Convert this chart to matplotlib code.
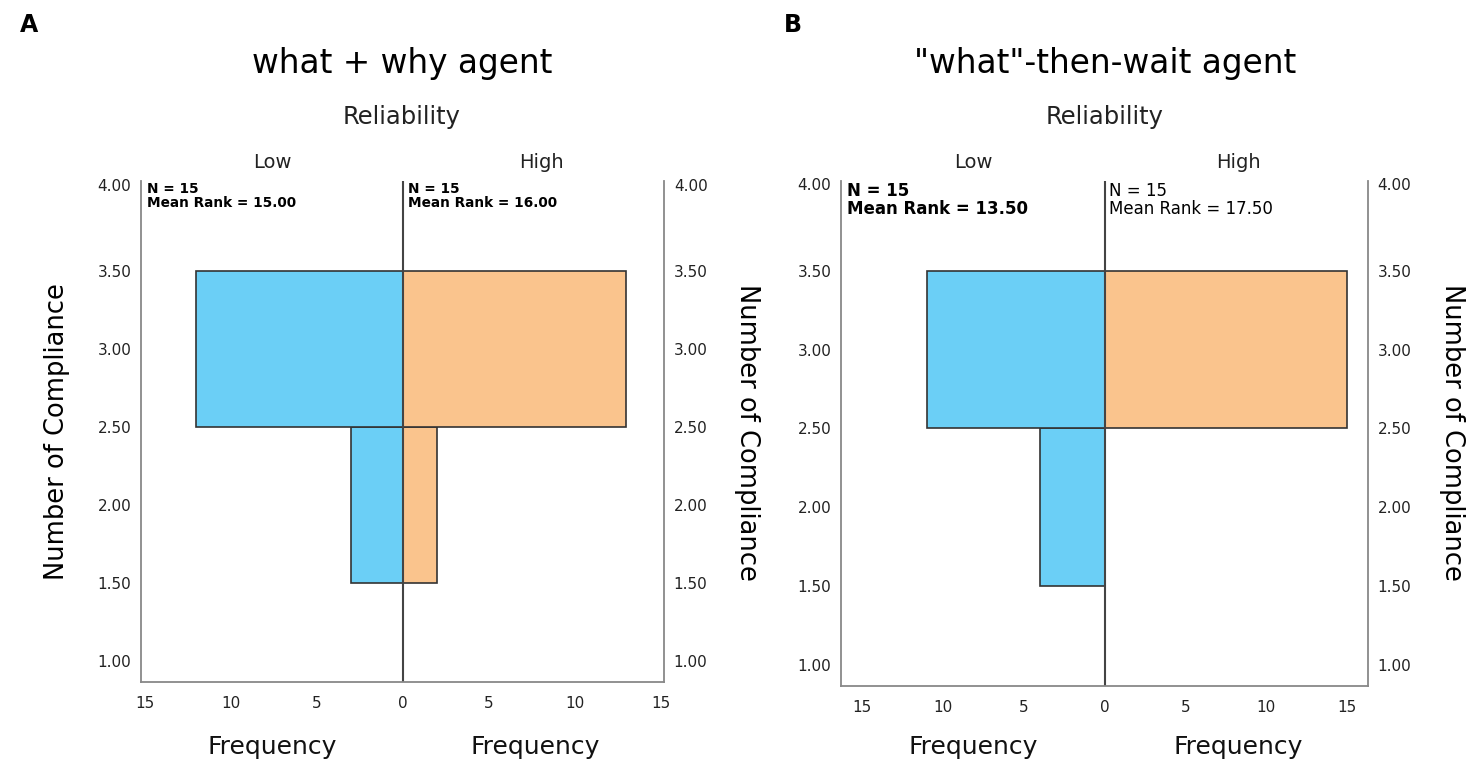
import matplotlib
matplotlib.use("Agg")
import matplotlib.pyplot as plt
from matplotlib.transforms import ScaledTranslation

# compliance bins (bar centres) and frequencies
bins = [2, 3]
a_low = [3, 12]
a_high = [2, 13]
b_low = [4, 11]
b_high = [0, 15]

yticks = [1.0, 1.5, 2.0, 2.5, 3.0, 3.5, 4.0]
xticks = [-15, -10, -5, 0, 5, 10, 15]

a_title = "what + why agent"
b_title = '"what"-then-wait agent'
a_stats = ["N = 15\nMean Rank = 15.00", "N = 15\nMean Rank = 16.00"]
b_stats = ["N = 15\nMean Rank = 13.50", "N = 15\nMean Rank = 17.50"]

blue = "#6BCFF6"
orange = "#FAC48D"

plt.rcParams['font.family'] = ['DejaVu Sans']

fig = plt.figure(figsize=(14.77, 7.76), dpi=100)


def draw_panel(ax, low, high, xlim, ylim):
    ax.barh(bins, [-v for v in low], height=1.0, left=0, color=blue,
            edgecolor="#333333", linewidth=1.2)
    ax.barh(bins, high, height=1.0, left=0, color=orange,
            edgecolor="#333333", linewidth=1.2)
    ax.axvline(0, color="#444444", linewidth=1.5)
    ax.set_xlim(-xlim, xlim)
    ax.set_ylim(*ylim)
    ax.set_yticks(yticks)
    ax.set_yticklabels(["%.2f" % t for t in yticks])
    ax.set_xticks(xticks)
    ax.set_xticklabels([str(abs(t)) for t in xticks])
    ax.tick_params(axis="y", length=0, pad=7, labelsize=11, labelright=True,
                   colors="#222222")
    ax.tick_params(axis="x", length=0, pad=10, labelsize=11, colors="#222222")
    ax.spines["top"].set_visible(False)
    for s in ["left", "right", "bottom"]:
        ax.spines[s].set_color("#888888")
        ax.spines[s].set_linewidth(1.3)
    # SPSS nudges the top label up a bit
    shift = ScaledTranslation(0, 8 / 100, fig.dpi_scale_trans)
    top = ax.yaxis.get_major_ticks()[-1]
    for t in (top.label1, top.label2):
        t.set_transform(t.get_transform() + shift)


# panel A
axA = fig.add_axes([0.0955, 0.1211, 0.3541, 0.6457])
draw_panel(axA, a_low, a_high, 15.2, (0.865, 4.077))
axA.annotate(a_stats[0], xy=(-15.2, 4.077), xytext=(4, -1), textcoords="offset points",
             ha="left", va="top", fontsize=9.8, fontweight="bold", linespacing=1.0)
axA.annotate(a_stats[1], xy=(0, 4.077), xytext=(4, -1), textcoords="offset points",
             ha="left", va="top", fontsize=9.8, fontweight="bold", linespacing=1.0)

# panel B
axB = fig.add_axes([0.5694, 0.116, 0.3568, 0.6508])
draw_panel(axB, b_low, b_high, 16.3, (0.865, 4.071))
axB.annotate(b_stats[0], xy=(-16.3, 4.071), xytext=(4, -1), textcoords="offset points",
             ha="left", va="top", fontsize=12, fontweight="bold", linespacing=1.0)
axB.annotate(b_stats[1], xy=(0, 4.071), xytext=(3, -1), textcoords="offset points",
             ha="left", va="top", fontsize=12, linespacing=1.0)

# headings
fig.text(20 / 1477, 1 - 25 / 776, "A", fontsize=17, fontweight="bold", ha="left", va="center")
fig.text(793 / 1477, 1 - 25 / 776, "B", fontsize=17, fontweight="bold", ha="center", va="center")

for cx, title, lowx, highx, fq1, fq2 in [(402, a_title, 272, 541, 272, 535),
                                          (1105, b_title, 973, 1238, 973, 1238)]:
    fig.text(cx / 1477, 1 - 63 / 776, title, fontsize=23.6, ha="center", va="center")
    fig.text(cx / 1477, 1 - 117 / 776, "Reliability", fontsize=17.5, ha="center", va="center",
             color="#222222")
    fig.text(lowx / 1477, 1 - 162 / 776, "Low", fontsize=14, ha="center", va="center",
             color="#222222")
    fig.text(highx / 1477, 1 - 162 / 776, "High", fontsize=14, ha="center", va="center",
             color="#222222")
    fig.text(fq1 / 1477, 1 - 747 / 776, "Frequency", fontsize=18, ha="center", va="center",
             color="#111111")
    fig.text(fq2 / 1477, 1 - 747 / 776, "Frequency", fontsize=18, ha="center", va="center",
             color="#111111")

fig.text(57 / 1477, 1 - 432 / 776, "Number of Compliance", fontsize=18.5, rotation=90,
         ha="center", va="center")
fig.text(747 / 1477, 1 - 432 / 776, "Number of Compliance", fontsize=18.5, rotation=270,
         ha="center", va="center")
fig.text(1452 / 1477, 1 - 432 / 776, "Number of Compliance", fontsize=18.5, rotation=270,
         ha="center", va="center")

fig.savefig("out.png", dpi=100)
